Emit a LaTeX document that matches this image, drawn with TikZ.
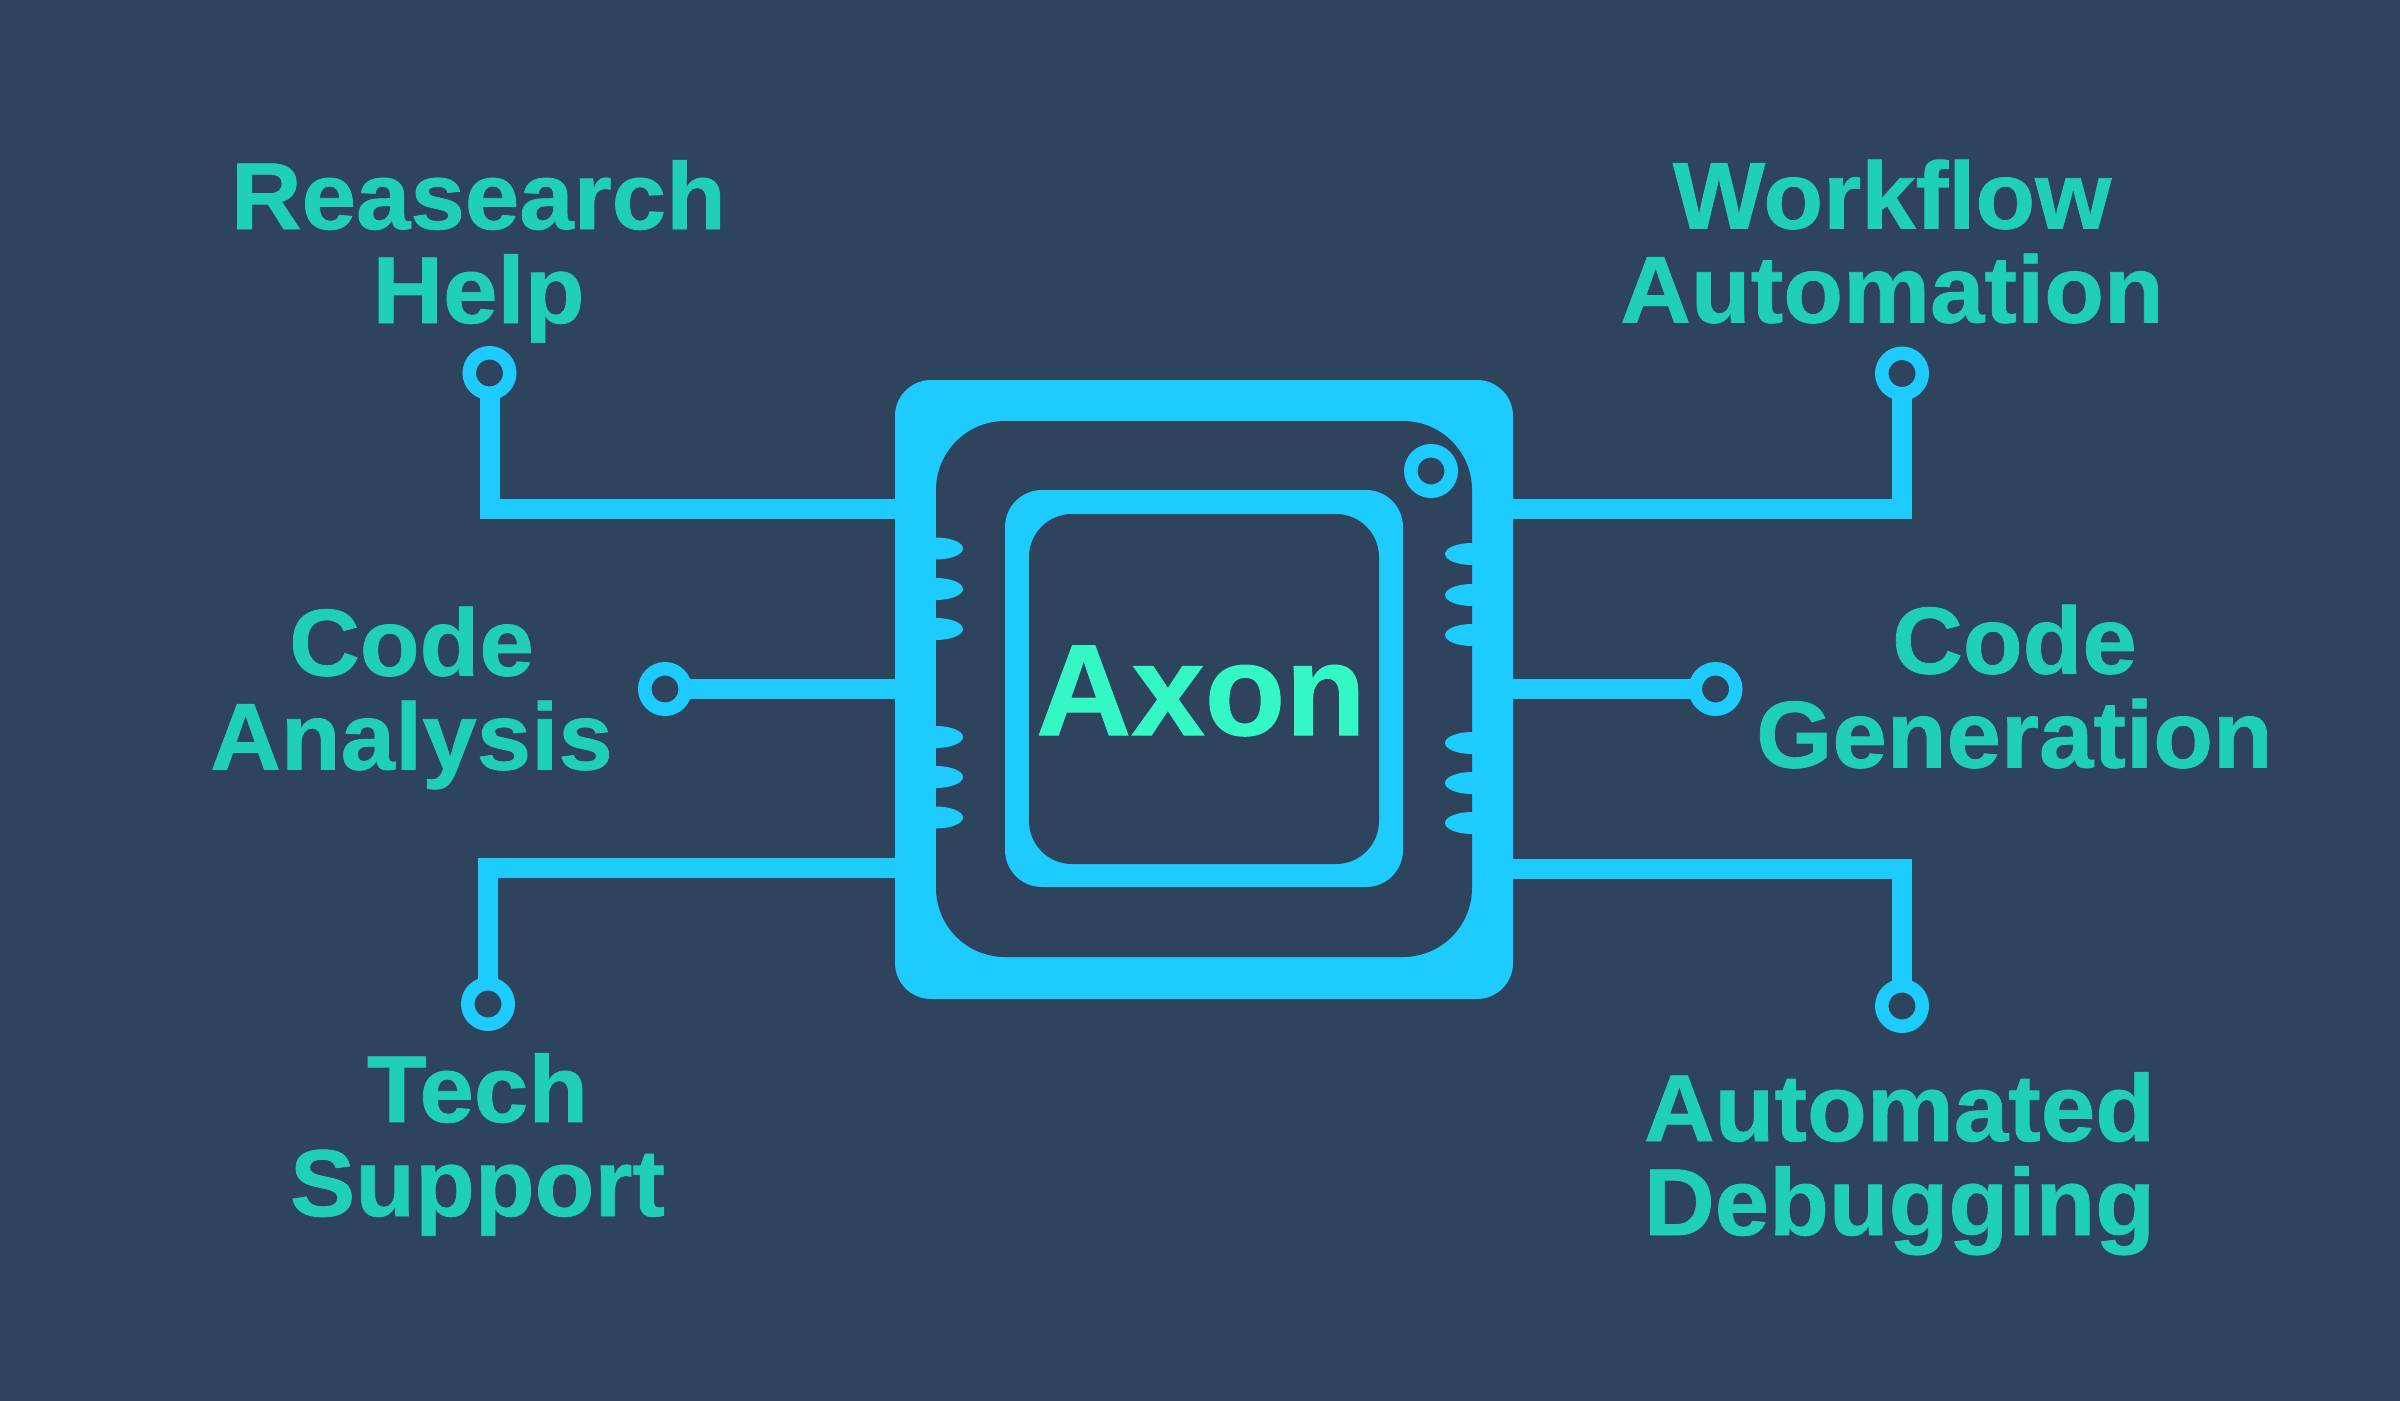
\documentclass[tikz,border=0pt]{standalone}
\usepackage{fontspec}
\setmainfont{Liberation Sans}
\newfontfamily\labf{Liberation Sans}[FakeStretch=1.03,FakeBold=0.8]
\newfontfamily\axf{Liberation Sans}[FakeStretch=1.015,FakeBold=0.8]
\definecolor{bgc}{HTML}{2E445C}
\definecolor{wire}{HTML}{1ECBFF}
\definecolor{lab}{HTML}{20D0B4}
\definecolor{axon}{HTML}{33F7C5}
\tikzset{
 box/.style={inner sep=0pt,outer sep=0pt,anchor=center},
 ring/.style={circle,draw=wire,line width=13.5pt,fill=bgc,minimum size=40.5pt,inner sep=0pt,outer sep=0pt},
 wirel/.style={draw=wire,line width=20pt,line join=miter},
 lbl/.style={text=lab,align=center,inner sep=0pt,outer sep=0pt,anchor=base,font=\fontsize{95}{94}\labf\bfseries},
 bump/.style={fill=wire}
}
\begin{document}
\begin{tikzpicture}[x=1pt,y=-1pt]
\useasboundingbox (0,0) rectangle (2400,1400);
\fill[bgc] (-5,-5) rectangle (2405,1405);
% rings
\node[ring] (rTL) at (489.5,373) {};
\node[ring] (rTR) at (1902,373.5) {};
\node[ring] (rML) at (665,689) {};
\node[ring] (rMR) at (1715.5,689) {};
\node[ring] (rBL) at (488,1004) {};
\node[ring] (rBR) at (1902,1006) {};
% chip anchors
\coordinate (a1) at (900,509);
\coordinate (a2) at (900,689);
\coordinate (a3) at (900,868);
\coordinate (b1) at (1510,509);
\coordinate (b2) at (1510,689);
\coordinate (b3) at (1510,869);
\draw[wirel] (rTL.south) |- (a1);
\draw[wirel] (rML.east) -- (a2);
\draw[wirel] (rBL.north) |- (a3);
\draw[wirel] (rTR.south) |- (b1);
\draw[wirel] (rMR.west) -- (b2);
\draw[wirel] (rBR.north) |- (b3);
% chip
\node[box,fill=wire,rounded corners=36pt,minimum width=618pt,minimum height=619pt] (chip) at (1204,689.5) {};
\node[box,fill=bgc,rounded corners=69pt,minimum width=536pt,minimum height=536pt] (well) at (1204,689) {};
\foreach \yy in {548.5,589,629,737,777,817.5} \fill[bump] (936,\yy) ellipse [x radius=27pt,y radius=11pt];
\foreach \yy in {554,595,635,743,783,823} \fill[bump] (1472,\yy) ellipse [x radius=27pt,y radius=11pt];
\node[box,fill=wire,rounded corners=37pt,minimum width=398pt,minimum height=397pt] (frame) at (1204,688.5) {};
\node[box,fill=bgc,rounded corners=43pt,minimum width=350pt,minimum height=350pt] (core) at (1204,689) {};
\node[ring] (pin) at (1431,471) {};
\node[text=axon,inner sep=0pt,outer sep=0pt,anchor=base,font=\fontsize{130}{130}\axf\bfseries] (ax) at (1201,735) {Axon};
% labels
\node[lbl] (l1) at (478.5,323) {Reasearch\\Help};
\node[lbl] (l2) at (1892,322.5) {Workflow\\Automation};
\node[lbl] (l3) at (411.5,769.5) {Code\\Analysis};
\node[lbl] (l4) at (2014.5,767.5) {Code\\Generation};
\node[lbl] (l5) at (477.5,1216) {Tech\\Support};
\node[lbl] (l6) at (1899.5,1235) {Automated\\Debugging};
\end{tikzpicture}
\end{document}
